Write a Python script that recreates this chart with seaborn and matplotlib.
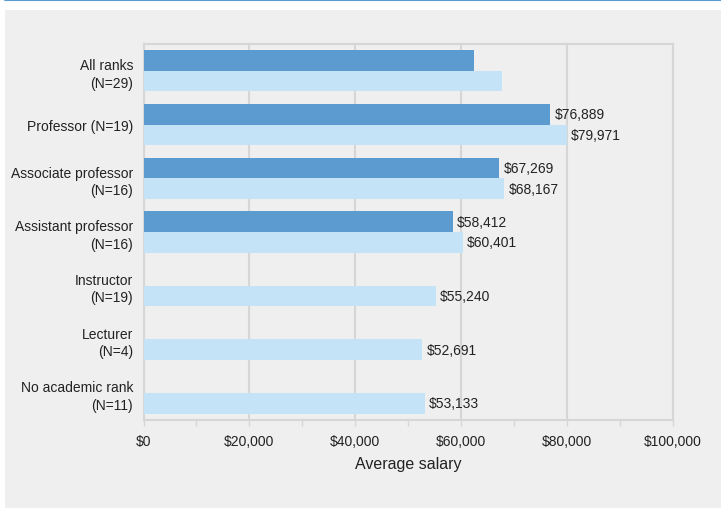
import numpy as np
import pandas as pd
import seaborn as sns
import matplotlib.pyplot as plt
from matplotlib.patches import Rectangle
from matplotlib.lines import Line2D
from matplotlib.ticker import MultipleLocator, FuncFormatter

# данные с картинки
ranks = ["All ranks\n(N=29)", "Professor (N=19)", "Associate professor\n(N=16)",
         "Assistant professor\n(N=16)", "Instructor\n(N=19)", "Lecturer\n(N=4)",
         "No academic rank\n(N=11)"]
series_names = ["Series 1", "Series 2"]
salary_dark = [62450, 76889, 67269, 58412, np.nan, np.nan, np.nan]
salary_light = [67740, 79971, 68167, 60401, 55240, 52691, 53133]
labelled = [False, True, True, True, True, True, True]

colors = ["#5b9bd0", "#c5e3f6"]
bg = "#efefef"
grid_c = "#d6d6d6"
txt_c = "#222222"

df = pd.DataFrame({
    "rank": ranks * 2,
    "series": [series_names[0]] * len(ranks) + [series_names[1]] * len(ranks),
    "salary": salary_dark + salary_light,
    "lab": labelled * 2,
}).dropna()

sns.set_theme(style="white")
plt.rcParams["font.family"] = ["Liberation Sans", "DejaVu Sans"]

fig = plt.figure(figsize=(7.21, 5.10), dpi=100)
fig.patch.set_facecolor("white")
# серая подложка и синяя линия сверху
fig.patches.append(Rectangle((4.6 / 721, 1 / 510), 1, 498 / 510, transform=fig.transFigure,
                             facecolor=bg, edgecolor="none", zorder=-5))
fig.lines.append(Line2D([4.6 / 721, 1], [1 - 1 / 510, 1 - 1 / 510], transform=fig.transFigure,
                        color="#5b9bd5", linewidth=1.5, zorder=-5))

ax = fig.add_axes([143.5 / 721, 1 - 420.7 / 510, (672.7 - 143.5) / 721, (420.7 - 45) / 510])
ax.set_facecolor(bg)

sns.barplot(data=df, y="rank", x="salary", hue="series", order=ranks,
            hue_order=series_names, palette=colors, orient="h", width=0.77,
            errorbar=None, legend=False, saturation=1, linewidth=0, ax=ax, zorder=3)

for cont, name in zip(ax.containers, series_names):
    sub = df[df["series"] == name]
    labs = [f"${v:,.0f}" if show else "" for v, show in zip(sub["salary"], sub["lab"])]
    ax.bar_label(cont, labels=labs, padding=3, fontsize=10, color=txt_c)

ax.set_xlim(0, 100000)
ax.set_ylim(len(ranks) - 0.5, -0.5)
ax.xaxis.set_major_locator(MultipleLocator(20000))
ax.xaxis.set_minor_locator(MultipleLocator(10000))
ax.xaxis.set_major_formatter(FuncFormatter(lambda v, p: f"${v:,.0f}"))
ax.grid(axis="x", color=grid_c, linewidth=1.5, zorder=1)
ax.set_axisbelow(True)

for s in ax.spines.values():
    s.set_visible(True)
    s.set_color(grid_c)
    s.set_linewidth(1.5)

ax.tick_params(axis="x", which="both", bottom=True, length=4, width=1, color=grid_c,
               labelsize=10, labelcolor=txt_c, pad=6)
ax.tick_params(axis="y", left=False, labelsize=10, labelcolor=txt_c, pad=1.5)
for t in ax.get_yticklabels():
    t.set_horizontalalignment("right")
    t.set_multialignment("right")
    t.set_linespacing(1.3)

ax.set_ylabel("")
ax.set_xlabel("Average salary", fontsize=11.5, color=txt_c, labelpad=6)

fig.savefig("out.png", dpi=100, facecolor="white")
